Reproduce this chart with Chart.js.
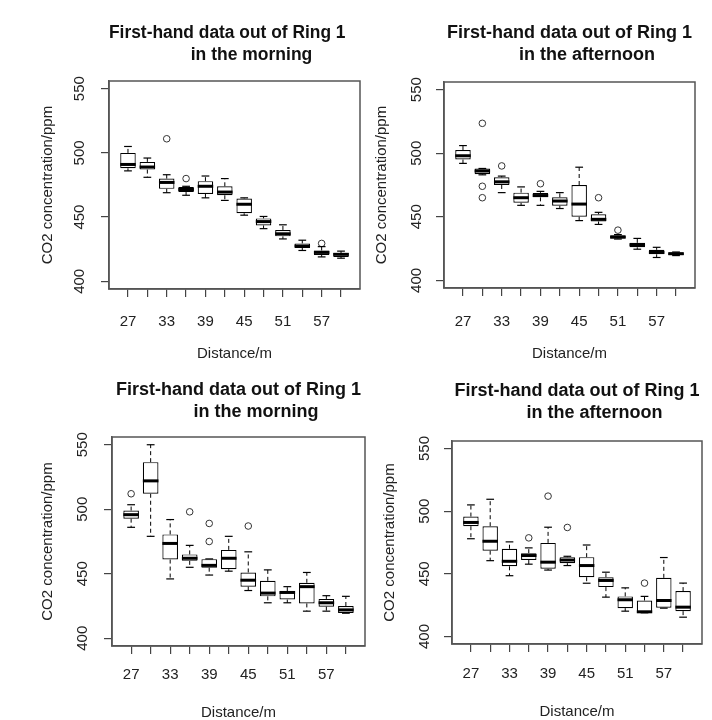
<!DOCTYPE html>
<html>
<head>
<meta charset="utf-8">
<title>CO2 concentration out of Ring 1</title>
<script src="https://cdn.jsdelivr.net/npm/chart.js@4.4.1/dist/chart.umd.min.js"></script>
<style>
  html, body { margin: 0; padding: 0; background: #ffffff; width: 712px; height: 720px; overflow: hidden; }
  canvas { position: absolute; }
</style>
</head>
<body>
<canvas id="p1"></canvas>
<canvas id="p2"></canvas>
<canvas id="p3"></canvas>
<canvas id="p4"></canvas>
<script>
// Sampling distances (m) and which of them carry a printed label
const distances = [27, 30, 33, 36, 39, 42, 45, 48, 51, 54, 57, 60];
const labelledDistances = [27, 33, 39, 45, 51, 57];
const yTicks = [400, 450, 500, 550];

// Morning run, first survey: whisker ends, quartiles, medians (ppm)
const morningA_low    = [486, 481, 469, 467, 465, 463, 451.5, 441, 433, 424, 419, 418];
const morningA_q1     = [488, 487, 472, 469.5, 468, 467, 453, 443.5, 435, 426, 420.5, 419];
const morningA_median = [491, 489, 477, 471.5, 474, 469.5, 460, 446.5, 437, 427.5, 422.5, 421];
const morningA_q3     = [500, 493, 480, 473.5, 478, 474, 464.5, 449, 440, 429.5, 424, 422];
const morningA_high   = [505, 496, 483, 474, 482, 480, 465, 450.5, 444, 432, 427, 423.5];
const morningA_outliers = [[33, 511], [36, 480], [57, 429.5]];

// Afternoon run, first survey
const afternoonA_low    = [492, 483, 469, 459, 459, 456.5, 447, 444, 432.5, 424.5, 418, 419.5];
const afternoonA_q1     = [495, 483.5, 475, 461, 465.3, 458.7, 450, 446.3, 433, 426, 420.5, 419.8];
const afternoonA_median = [498, 486, 477.5, 465, 466.7, 462.4, 460, 448, 434, 428, 422, 421];
const afternoonA_q3     = [502.5, 488, 481, 469, 468.8, 465.3, 475, 452, 435.5, 429.5, 424, 422];
const afternoonA_high   = [506, 488, 482, 473.5, 470, 469, 489, 453.5, 436, 433, 426, 422.3];
const afternoonA_outliers = [[30, 523.5], [30, 474], [30, 465], [33, 490], [39, 476], [48, 465], [51, 439.5]];

// Morning run, second survey
const morningB_low    = [486, 479, 446, 455, 449, 452, 437, 427.5, 427.5, 421, 421, 419.4];
const morningB_q1     = [492.7, 512, 461, 460, 454.7, 453.5, 440, 432.5, 430, 427, 424.5, 419.6];
const morningB_median = [495.8, 522, 473.5, 462, 456.5, 462, 445, 435, 435.5, 440, 427.5, 422];
const morningB_q3     = [499, 536.5, 480.5, 465, 461.3, 468.5, 451, 444.5, 436.5, 443, 430.5, 425];
const morningB_high   = [503.5, 550, 492, 472, 461.5, 479, 467, 453, 440, 451, 433, 432.5];
const morningB_outliers = [[27, 512], [36, 498], [39, 489], [39, 475], [45, 487]];

// Afternoon run, second survey
const afternoonB_low    = [478, 460.5, 448.5, 457.7, 453, 456.6, 442.5, 431.4, 420.2, 418.9, 422.6, 415.4];
const afternoonB_q1     = [488, 468.5, 456, 461, 454, 458.5, 447.3, 439.4, 422.6, 419, 422.9, 420.2];
const afternoonB_median = [491, 476, 460, 464.6, 459.3, 461, 456.6, 444.7, 429.3, 419.7, 428.7, 423.4];
const afternoonB_q3     = [495.7, 488, 470, 466.5, 474.7, 463.3, 463.3, 447.3, 432, 428.7, 446.8, 436.2];
const afternoonB_high   = [505, 509.5, 475.5, 470.7, 487.2, 464, 473, 451.3, 438.8, 432, 463, 442.6];
const afternoonB_outliers = [[36, 478.7], [39, 512], [42, 487], [54, 442.6]];

// ---- drawing setup ----
const FONT = "'Liberation Sans', Arial, Helvetica, sans-serif";
const TICK_LEN = 8;
const LABEL_SIZE = 15;
const LABEL_LH = 18;
const TITLE_LH = 22;
const Y_MIN = 394, Y_MAX = 556;            // 400..550 widened by 4%
const X_EXT = 0.98 * 3;                    // half a slot plus 4% on each side

function textWidth(text, font) {
  const c = document.createElement('canvas').getContext('2d');
  c.font = font;
  return c.measureText(text).width;
}

// whiskers, staples and median bars drawn on top of the quartile boxes
function whiskerPlugin(s) {
  return {
    id: 'whiskers',
    afterDatasetsDraw(chart) {
      const ctx = chart.ctx;
      const y = chart.scales.y;
      const bars = chart.getDatasetMeta(0).data;
      const seg = (x1, y1, x2, y2) => { ctx.beginPath(); ctx.moveTo(x1, y1); ctx.lineTo(x2, y2); ctx.stroke(); };
      ctx.save();
      ctx.strokeStyle = '#000000';
      bars.forEach((bar, i) => {
        const x = bar.x;
        const half = bar.width / 2;
        const yLow = y.getPixelForValue(s.low[i]);
        const yQ1 = y.getPixelForValue(s.q1[i]);
        const yMed = y.getPixelForValue(s.median[i]);
        const yQ3 = y.getPixelForValue(s.q3[i]);
        const yHigh = y.getPixelForValue(s.high[i]);
        ctx.lineWidth = 1;
        ctx.setLineDash([4, 3]);
        if (yQ3 - yHigh > 0.5) seg(x, yQ3, x, yHigh);
        if (yLow - yQ1 > 0.5) seg(x, yQ1, x, yLow);
        ctx.setLineDash([]);
        ctx.lineWidth = 1.2;
        seg(x - half / 2, yHigh, x + half / 2, yHigh);
        seg(x - half / 2, yLow, x + half / 2, yLow);
        ctx.lineWidth = 3;
        seg(x - half, yMed, x + half, yMed);
      });
      ctx.restore();
    }
  };
}

const framePlugin = {
  id: 'frame',
  afterDraw(chart) {
    const a = chart.chartArea;
    const ctx = chart.ctx;
    ctx.save();
    ctx.strokeStyle = '#555555';
    ctx.lineWidth = 1.5;
    ctx.strokeRect(a.left, a.top, a.right - a.left, a.bottom - a.top);
    ctx.restore();
  }
};

function buildPanel(p, s) {
  const canvas = document.getElementById(p.id);
  canvas.width = p.width;
  canvas.height = p.height;
  canvas.style.left = p.left + 'px';
  canvas.style.top = p.top + 'px';
  canvas.style.width = p.width + 'px';
  canvas.style.height = p.height + 'px';

  const [pl, pt, pr, pb] = p.plot;
  const titlePadTop = p.titleY - p.top - TITLE_LH / 2;
  const titlePadBottom = (pt - p.top) - 2 * TITLE_LH - titlePadTop;
  const yAxisWidth = pl - p.left;
  const xAxisHeight = p.top + p.height - pb;
  const widest = textWidth('550', LABEL_SIZE + 'px ' + FONT);
  const yTickPad = pl - TICK_LEN - widest / 2 - p.yLabelX;
  const yTitlePad = p.yTitleX - p.left - LABEL_LH / 2;
  const xTickPad = p.xLabelY - pb - TICK_LEN - LABEL_LH / 2;
  const xTitlePad = p.top + p.height - p.xTitleY - LABEL_LH / 2;

  const axisGrid = { drawOnChartArea: false, drawTicks: true, tickLength: TICK_LEN, color: '#444444', lineWidth: 1.2, offset: false };
  const axisBorder = { display: true, color: '#555555', width: 1.5 };
  const labelFont = { family: FONT, size: LABEL_SIZE, lineHeight: LABEL_LH / LABEL_SIZE };

  return new Chart(canvas, {
    type: 'bar',
    data: {
      datasets: [
        {
          type: 'bar',
          data: distances.map((d, i) => ({ x: d, y: [s.q1[i], s.q3[i]] })),
          backgroundColor: '#ffffff',
          borderColor: '#000000',
          borderWidth: 1.2,
          borderSkipped: false,
          barPercentage: 0.8,
          categoryPercentage: 1
        },
        {
          type: 'scatter',
          data: s.outliers.map(([d, v]) => ({ x: d, y: v })),
          pointStyle: 'circle',
          pointRadius: 3.3,
          borderColor: '#333333',
          backgroundColor: 'rgba(255,255,255,0)',
          borderWidth: 1
        }
      ]
    },
    options: {
      responsive: false,
      animation: false,
      events: [],
      layout: { padding: { left: 0, top: 0, right: p.left + p.width - pr, bottom: 0 } },
      plugins: {
        legend: { display: false },
        tooltip: { enabled: false },
        title: {
          display: true,
          fullSize: false,
          text: p.title,
          color: '#111111',
          font: { family: FONT, size: p.titleSize, weight: 'bold', lineHeight: TITLE_LH / p.titleSize },
          padding: { top: titlePadTop, bottom: titlePadBottom }
        }
      },
      scales: {
        x: {
          type: 'linear',
          offset: false,
          min: distances[0] - X_EXT,
          max: distances[distances.length - 1] + X_EXT,
          afterBuildTicks: sc => { sc.ticks = distances.map(v => ({ value: v })); },
          afterFit: sc => { sc.height = xAxisHeight; },
          grid: axisGrid,
          border: axisBorder,
          ticks: {
            autoSkip: false, minRotation: 0, maxRotation: 0, padding: xTickPad,
            color: '#222222', font: labelFont,
            callback: v => labelledDistances.includes(v) ? String(v) : ''
          },
          title: { display: true, text: 'Distance/m', color: '#222222', font: labelFont, padding: { top: 0, bottom: xTitlePad } }
        },
        y: {
          type: 'linear',
          beginAtZero: false,
          min: Y_MIN,
          max: Y_MAX,
          afterBuildTicks: sc => { sc.ticks = yTicks.map(v => ({ value: v })); },
          afterFit: sc => { sc.width = yAxisWidth; },
          grid: axisGrid,
          border: axisBorder,
          ticks: {
            autoSkip: false, minRotation: 90, maxRotation: 90, crossAlign: 'center', padding: yTickPad,
            color: '#222222', font: labelFont
          },
          title: { display: true, text: 'CO2 concentration/ppm', color: '#222222', font: labelFont, padding: { top: yTitlePad, bottom: 0 } }
        }
      }
    },
    plugins: [whiskerPlugin(s), framePlugin]
  });
}

const panels = [
  { id: 'p1', left: 0, top: 0, width: 365, height: 368, plot: [109, 81, 363, 289],
    title: ['First-hand data out of Ring 1   ', '       in the morning'], titleSize: 17.5,
    titleY: 33, yLabelX: 80, yTitleX: 48, xLabelY: 322, xTitleY: 354 },
  { id: 'p2', left: 370, top: 0, width: 342, height: 368, plot: [444, 82, 695, 288],
    title: ['First-hand data out of Ring 1', '       in the afternoon'], titleSize: 18,
    titleY: 33, yLabelX: 417, yTitleX: 382, xLabelY: 322, xTitleY: 354 },
  { id: 'p3', left: 0, top: 368, width: 372, height: 360, plot: [112, 437, 365, 646],
    title: ['First-hand data out of Ring 1', '       in the morning'], titleSize: 18,
    titleY: 390, yLabelX: 83, yTitleX: 48, xLabelY: 675, xTitleY: 712.5 },
  { id: 'p4', left: 374, top: 368, width: 338, height: 360, plot: [452, 441, 702, 644],
    title: ['First-hand data out of Ring 1', '       in the afternoon'], titleSize: 18,
    titleY: 391.5, yLabelX: 425, yTitleX: 390, xLabelY: 674, xTitleY: 711.5 }
];

const series = [
  { low: morningA_low, q1: morningA_q1, median: morningA_median, q3: morningA_q3, high: morningA_high, outliers: morningA_outliers },
  { low: afternoonA_low, q1: afternoonA_q1, median: afternoonA_median, q3: afternoonA_q3, high: afternoonA_high, outliers: afternoonA_outliers },
  { low: morningB_low, q1: morningB_q1, median: morningB_median, q3: morningB_q3, high: morningB_high, outliers: morningB_outliers },
  { low: afternoonB_low, q1: afternoonB_q1, median: afternoonB_median, q3: afternoonB_q3, high: afternoonB_high, outliers: afternoonB_outliers }
];

panels.forEach((p, i) => buildPanel(p, series[i]));
</script>
</body>
</html>
